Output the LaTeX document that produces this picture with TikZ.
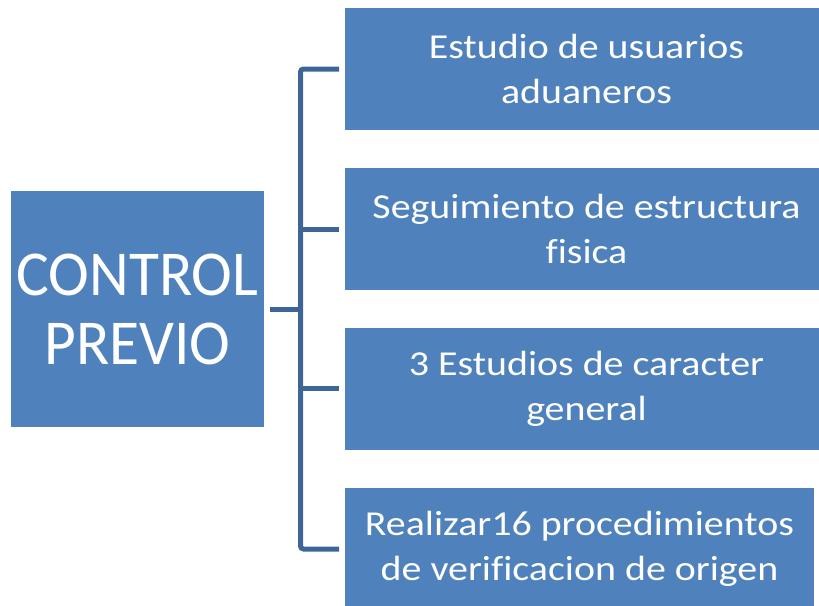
\documentclass[tikz,border=0pt]{standalone}
\usepackage{fontspec}
\setmainfont{Carlito}[Ligatures=NoCommon]
\newfontfamily\boxfont{Carlito}[Ligatures=NoCommon,FakeStretch=1.14]
\newfontfamily\bigfont{Carlito}[Ligatures=NoCommon,FakeStretch=0.96]
\definecolor{boxblue}{HTML}{4F81BD}
\definecolor{lineblue}{HTML}{3D6598}
\tikzset{
  box/.style={fill=boxblue, draw=none, text=white, align=center, inner sep=0pt, outer sep=6pt},
  bigtext/.style={font=\bigfont\fontsize{64}{69}\selectfont},
  smalltext/.style={font=\boxfont\fontsize{35}{45}\selectfont},
  conn/.style={draw=lineblue, line width=5pt}
}
\begin{document}
\begin{tikzpicture}[x=1pt,y=-1pt]
\useasboundingbox (0,0) rectangle (819,605);
\clip (0,0) rectangle (819,605);
\node[box,bigtext,minimum width=253pt,minimum height=236pt] (cp) at (137.5,309) {CONTROL\\PREVIO};
\node[box,smalltext,minimum width=483pt,minimum height=122pt] (b1) at (586.5,69) {Estudio de usuarios\\aduaneros};
\node[box,smalltext,minimum width=483pt,minimum height=122pt] (b2) at (586.5,229) {Seguimiento de estructura\\fisica};
\node[box,smalltext,minimum width=483pt,minimum height=122pt] (b3) at (586.5,388.5) {3 Estudios de caracter\\general};
\node[box,smalltext,minimum width=469pt,minimum height=122pt] (b4) at (579.5,549) {Realizar16 procedimientos\\de verificacion de origen};
\coordinate (j) at (300.5,309);
\draw[conn,rounded corners=3pt] (b1.west) -| (j) |- (b4.west);
\draw[conn] (cp.east) -- (j);
\draw[conn] (b2.west) -- (j |- b2.west);
\draw[conn] (b3.west) -- (j |- b3.west);
\end{tikzpicture}
\end{document}
